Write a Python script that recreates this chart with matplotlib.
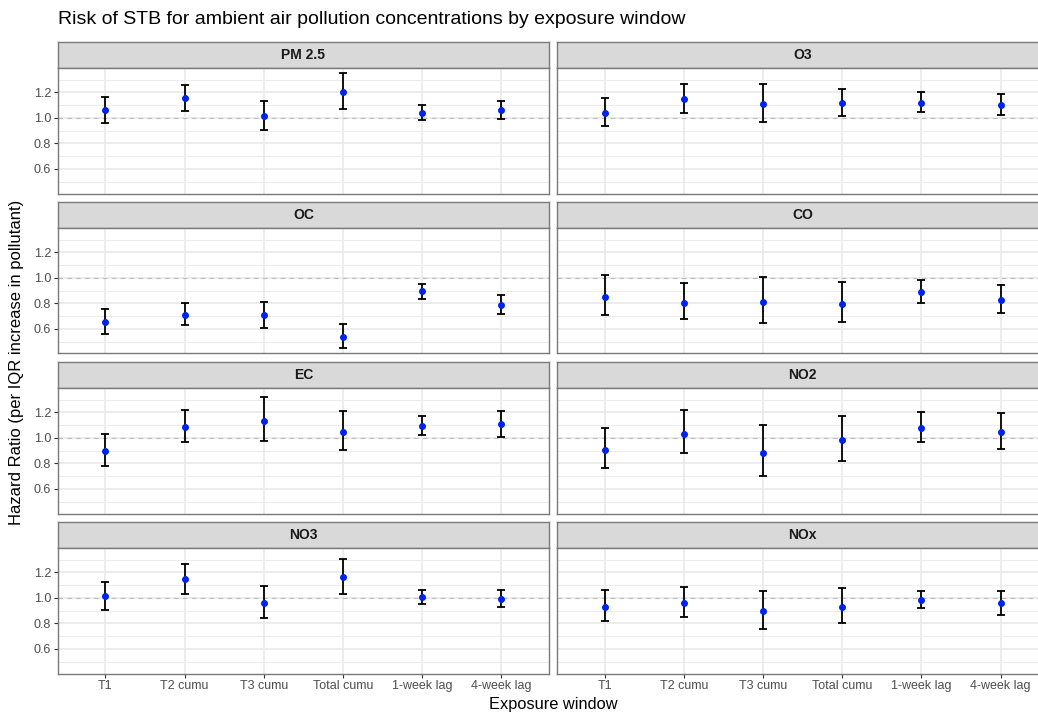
import numpy as np
import matplotlib
matplotlib.use("Agg")
import matplotlib.pyplot as plt

plt.rcParams['font.family'] = ['Liberation Sans', 'DejaVu Sans']

windows = ["T1", "T2 cumu", "T3 cumu", "Total cumu", "1-week lag", "4-week lag"]
pollutants = ["PM 2.5", "O3", "OC", "CO", "EC", "NO2", "NO3", "NOx"]

# hazard ratio, lower and upper CI per pollutant (same order as windows)
hr_pm25 = [1.058, 1.152, 1.013, 1.201, 1.039, 1.063]
lo_pm25 = [0.963, 1.057, 0.906, 1.068, 0.982, 0.995]
hi_pm25 = [1.165, 1.261, 1.133, 1.350, 1.097, 1.133]

hr_o3 = [1.042, 1.146, 1.107, 1.118, 1.120, 1.102]
lo_o3 = [0.935, 1.042, 0.971, 1.018, 1.044, 1.024]
hi_o3 = [1.157, 1.264, 1.267, 1.225, 1.199, 1.186]

hr_oc = [0.651, 0.712, 0.706, 0.536, 0.895, 0.788]
lo_oc = [0.562, 0.628, 0.609, 0.452, 0.837, 0.717]
hi_oc = [0.754, 0.806, 0.814, 0.638, 0.953, 0.864]

hr_co = [0.853, 0.806, 0.809, 0.798, 0.887, 0.827]
lo_co = [0.706, 0.678, 0.649, 0.657, 0.803, 0.722]
hi_co = [1.026, 0.958, 1.008, 0.971, 0.982, 0.948]

hr_ec = [0.895, 1.084, 1.136, 1.047, 1.092, 1.105]
lo_ec = [0.777, 0.966, 0.979, 0.906, 1.024, 1.008]
hi_ec = [1.034, 1.218, 1.322, 1.212, 1.168, 1.212]

hr_no2 = [0.908, 1.034, 0.879, 0.984, 1.081, 1.045]
lo_no2 = [0.761, 0.879, 0.704, 0.822, 0.969, 0.911]
hi_no2 = [1.081, 1.218, 1.102, 1.173, 1.199, 1.197]

hr_no3 = [1.016, 1.147, 0.958, 1.163, 1.008, 0.995]
lo_no3 = [0.908, 1.034, 0.840, 1.034, 0.955, 0.927]
hi_no3 = [1.128, 1.267, 1.092, 1.307, 1.063, 1.063]

hr_nox = [0.932, 0.961, 0.895, 0.932, 0.984, 0.958]
lo_nox = [0.817, 0.848, 0.756, 0.803, 0.919, 0.869]
hi_nox = [1.063, 1.089, 1.052, 1.076, 1.055, 1.055]

hr_all = [hr_pm25, hr_o3, hr_oc, hr_co, hr_ec, hr_no2, hr_no3, hr_nox]
lo_all = [lo_pm25, lo_o3, lo_oc, lo_co, lo_ec, lo_no2, lo_no3, lo_nox]
hi_all = [hi_pm25, hi_o3, hi_oc, hi_co, hi_ec, hi_no2, hi_no3, hi_nox]

W, H = 1038, 713
fig = plt.figure(figsize=(W / 100, H / 100), dpi=100)
fig.patch.set_facecolor("white")


def rect(x0, y0, w, h):
    return [x0 / W, 1 - (y0 + h) / H, w / W, h / H]


col_x = [58, 557.3]
pw = 490.7
strip_h = 25.5
plot_h = 126
row_top = [42, 202, 362, 522]

lo_min = min(min(l) for l in lo_all)
hi_max = max(max(h) for h in hi_all)
pad = (hi_max - lo_min) * 0.05
ylim = (lo_min - pad, hi_max + pad)
x = np.arange(1, len(windows) + 1)
border = "#7A7A7A"

for i, name in enumerate(pollutants):
    r, c = divmod(i, 2)
    x0 = col_x[c]
    y0 = row_top[r]

    sax = fig.add_axes(rect(x0, y0, pw, strip_h))
    sax.set_facecolor("#D9D9D9")
    sax.set_xticks([])
    sax.set_yticks([])
    for s in sax.spines.values():
        s.set_color(border)
        s.set_linewidth(1.0)
    sax.text(0.5, 0.5, name, ha="center", va="center", fontsize=10,
             fontweight="bold", color="#1A1A1A", transform=sax.transAxes)

    ax = fig.add_axes(rect(x0, y0 + strip_h, pw, plot_h))
    ax.set_xlim(0.4, len(windows) + 0.6)
    ax.set_ylim(*ylim)
    ax.set_xticks(x)
    ax.set_yticks([0.6, 0.8, 1.0, 1.2])
    ax.set_yticks([0.5, 0.7, 0.9, 1.1, 1.3], minor=True)
    ax.grid(which="major", color="#EBEBEB", linewidth=1.3)
    ax.grid(which="minor", axis="y", color="#EBEBEB", linewidth=0.7)
    ax.set_axisbelow(True)
    for s in ax.spines.values():
        s.set_color(border)
        s.set_linewidth(1.0)

    ax.axhline(1.0, color="#BBBBBB", linestyle=(0, (4, 4)), linewidth=0.8, zorder=1)

    hr = np.array(hr_all[i])
    lo = np.array(lo_all[i])
    hi = np.array(hi_all[i])
    ax.errorbar(x, hr, yerr=[hr - lo, hi - hr], fmt="none", ecolor="black",
                elinewidth=1.3, capsize=3.2, capthick=1.3, zorder=3)
    ax.plot(x, hr, "o", color="#0022EE", markersize=4, zorder=4)

    ax.tick_params(which="minor", length=0)
    ax.tick_params(which="major", length=3, color="#333333", width=0.8,
                   labelsize=9, labelcolor="#4D4D4D", pad=2)
    if c == 0:
        ax.set_yticklabels(["0.6", "0.8", "1.0", "1.2"])
    else:
        ax.tick_params(axis="y", length=0, labelleft=False)
    if r == 3:
        ax.set_xticklabels(windows)
    else:
        ax.tick_params(axis="x", length=0, labelbottom=False)

fig.text(58 / W, 1 - 20 / H, "Risk of STB for ambient air pollution concentrations by exposure window",
         ha="left", va="center", fontsize=14, color="black")
fig.text(553 / W, 1 - 705 / H, "Exposure window", ha="center", va="center",
         fontsize=11.8, color="black")
fig.text(17 / W, 1 - 362 / H, "Hazard Ratio (per IQR increase in pollutant)", ha="center",
         va="center", rotation=90, fontsize=12, color="black")

fig.savefig("out.png", dpi=100)
